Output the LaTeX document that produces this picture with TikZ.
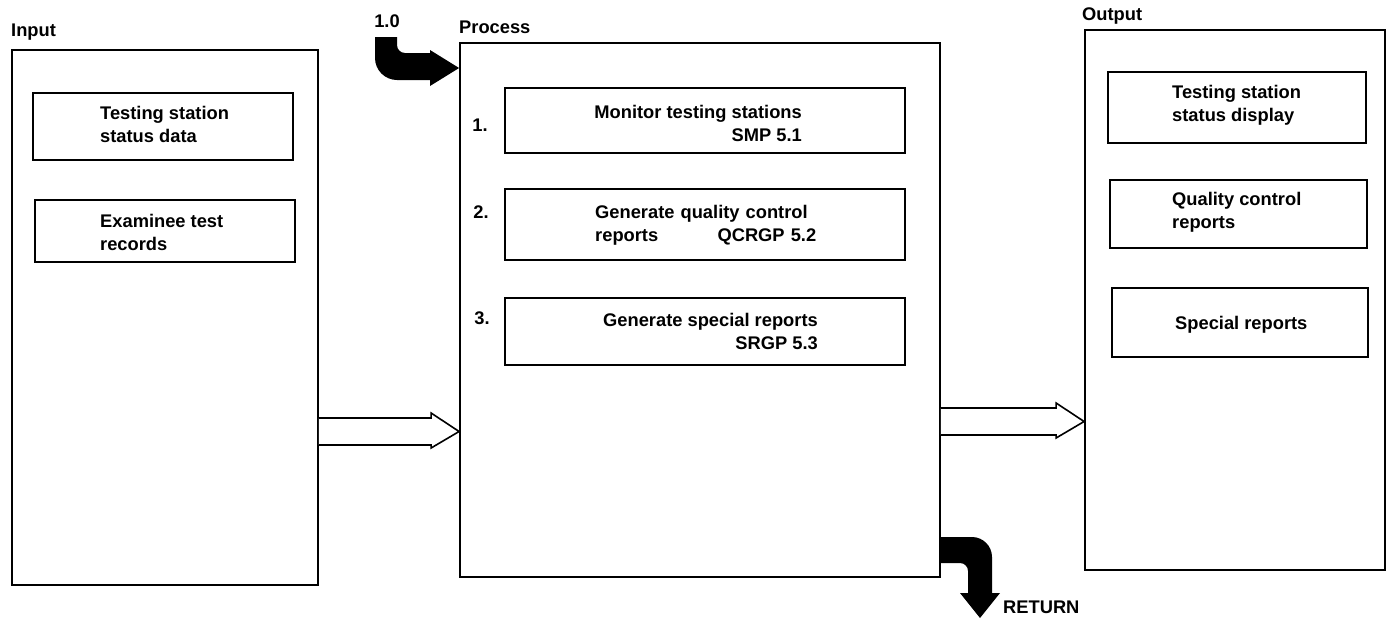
\documentclass[tikz,border=0pt]{standalone}
\usepackage{fontspec}
\setmainfont{Liberation Sans}
\usetikzlibrary{calc}
\begin{document}
\begin{tikzpicture}[x=1pt,y=-1pt,
  panel/.style={draw, line width=1.8pt, rectangle, inner sep=0pt},
  itembox/.style={draw, line width=1.8pt, rectangle, inner sep=0pt},
  txt/.style={font=\fontsize{18.3}{23}\selectfont\bfseries, inner sep=0pt},
  flow/.style={draw, line width=1.6pt, fill=white, line join=miter},
  bigarrow/.style={fill=black}]
\useasboundingbox (0,0) rectangle (1395,622);

% three main panels
\node[panel, minimum width=306pt, minimum height=535pt] (input) at (165,317.5) {};
\node[panel, minimum width=480pt, minimum height=534pt] (process) at (700,310) {};
\node[panel, minimum width=300pt, minimum height=540pt] (output) at (1235,300) {};

% panel titles
\node[txt, anchor=west] (inputlbl) at (11,32) {Input};
\node[txt, anchor=west] (processlbl) at (459,27) {Process};
\node[txt, anchor=west] (outputlbl) at (1082,16) {Output};
\node[txt] (entry) at (387,21) {1.0};

% input items
\node[itembox, minimum width=260pt, minimum height=67pt] (in1) at (163,126.5) {};
\node[txt, anchor=west, align=left] (in1t) at (100,124) {Testing station\\status data};
\node[itembox, minimum width=260pt, minimum height=62pt] (in2) at (165,231) {};
\node[txt, anchor=west, align=left] (in2t) at (100,232) {Examinee test\\records};

% process steps
\node[itembox, minimum width=400pt, minimum height=65pt] (p1) at (705,120.5) {};
\node[txt, anchor=east, align=right] (p1t) at (802,123) {Monitor testing stations\\SMP 5.1};
\node[txt] (n1) at (480,125) {1.};
\node[itembox, minimum width=400pt, minimum height=71pt] (p2) at (705,224.5) {};
\node[txt, anchor=west, align=left, text width=221pt] (p2t) at (595,225)
  {Generate quality control\\reports\hskip 0pt plus 1filll QCRGP 5.2};
\node[txt] (n2) at (481,212) {2.};
\node[itembox, minimum width=400pt, minimum height=67pt] (p3) at (705,331.5) {};
\node[txt, anchor=east, align=right] (p3t) at (818,331) {Generate special reports\\SRGP 5.3};
\node[txt] (n3) at (482,318) {3.};

% output items
\node[itembox, minimum width=258pt, minimum height=71pt] (o1) at (1237,107.5) {};
\node[txt, anchor=west, align=left] (o1t) at (1172,105) {Testing station\\status display};
\node[itembox, minimum width=257pt, minimum height=68pt] (o2) at (1238.5,214) {};
\node[txt, anchor=west, align=left] (o2t) at (1172,212) {Quality control\\reports};
\node[itembox, minimum width=256pt, minimum height=69pt] (o3) at (1240,322.5) {};
\node[txt, anchor=west] (o3t) at (1175,325) {Special reports};

% hollow flow arrows between panels
\coordinate (a1s) at (input.east |- 0,431.5);
\coordinate (a1e) at (process.west |- 0,431.5);
\draw[flow] ($(a1s)+(0,-13.5)$) -- ($(a1e)+(-28,-13.5)$) -- ($(a1e)+(-28,-18.5)$)
  -- (a1e) -- ($(a1e)+(-28,16.5)$) -- ($(a1e)+(-28,13.5)$) -- ($(a1s)+(0,13.5)$);
\coordinate (a2s) at (process.east |- 0,421.5);
\coordinate (a2e) at (output.west |- 0,421.5);
\draw[flow] ($(a2s)+(0,-13.5)$) -- ($(a2e)+(-28,-13.5)$) -- ($(a2e)+(-28,-18.5)$)
  -- (a2e) -- ($(a2e)+(-28,16.5)$) -- ($(a2e)+(-28,13.5)$) -- ($(a2s)+(0,13.5)$);

% bent entry arrow into the process panel
\fill[bigarrow] (375,37) -- (397,37) -- (397,45)
  .. controls (397,49.4) and (400.6,53) .. (405,53) -- (430,53) -- (430,50)
  -- (process.west |- 0,68) -- (430,86) -- (430,80) -- (397,80)
  .. controls (384.9,80) and (375,70.1) .. (375,58) -- cycle;

% bent return arrow leaving the process panel
\fill[bigarrow] (process.east |- 0,537) -- (972,537)
  .. controls (983,537) and (992,546) .. (992,557) -- (992,593) -- (1000,593)
  -- (980,618) -- (960,593) -- (968,593) -- (968,571)
  .. controls (968,566.6) and (964.4,563) .. (960,563) -- (process.east |- 0,563) -- cycle;
\node[txt, anchor=west] (ret) at (1003,607) {RETURN};
\end{tikzpicture}
\end{document}
